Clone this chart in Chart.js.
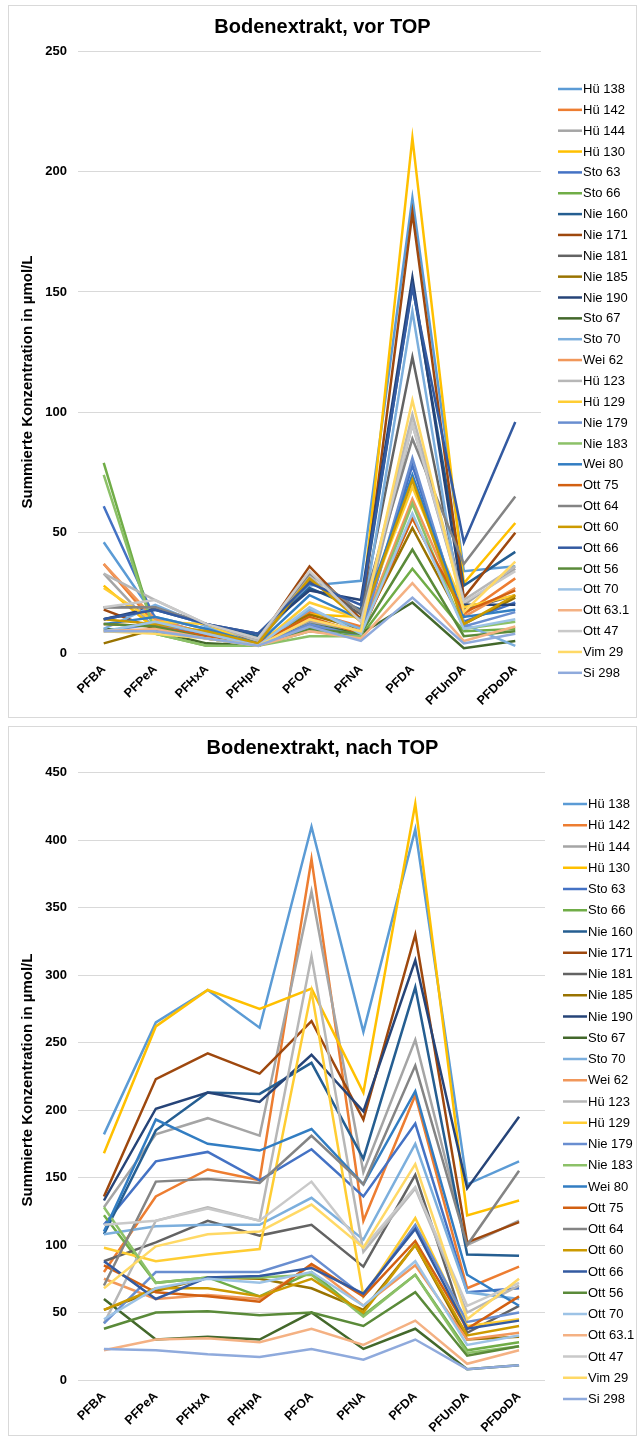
<!DOCTYPE html>
<html>
<head>
<meta charset="utf-8">
<script src="https://cdn.jsdelivr.net/npm/chart.js@4.4.1/dist/chart.umd.min.js"></script>
<style>
  body { margin: 0; background: #fff; }
  .box { position: absolute; left: 8px; width: 627px; border: 1px solid #d9d9d9; background: #fff; }
  #boxVor { top: 5px; height: 711px; }
  #boxNach { top: 726px; height: 708px; }
  canvas { display: block; }
</style>
</head>
<body>
<div class="box" id="boxVor"><canvas id="chartVor" width="627" height="711"></canvas></div>
<div class="box" id="boxNach"><canvas id="chartNach" width="627" height="708"></canvas></div>
<script>
var categories = ['PFBA', 'PFPeA', 'PFHxA', 'PFHpA', 'PFOA', 'PFNA', 'PFDA', 'PFUnDA', 'PFDoDA'];

var sampleNames = ['Hü 138', 'Hü 142', 'Hü 144', 'Hü 130', 'Sto 63', 'Sto 66', 'Nie 160', 'Nie 171',
    'Nie 181', 'Nie 185', 'Nie 190', 'Sto 67', 'Sto 70', 'Wei 62', 'Hü 123', 'Hü 129', 'Nie 179',
    'Nie 183', 'Wei 80', 'Ott 75', 'Ott 64', 'Ott 60', 'Ott 66', 'Ott 56', 'Ott 70', 'Ott 63.1',
    'Ott 47', 'Vim 29', 'Si 298'];

// Bodenextrakt, vor TOP (µmol/L), one row per sample
var vorTopValues = [
    [46, 15, 10, 5, 28, 30, 189, 34, 36],     // Hü 138
    [37, 12, 7, 4, 17, 11, 56, 16, 31],       // Hü 142
    [33, 10, 6, 3, 13, 9, 95, 20, 35],        // Hü 144
    [28, 10, 8, 4, 16, 15, 214, 29, 54],      // Hü 130
    [61, 14, 8, 4, 11, 8, 78, 13, 21],        // Sto 63
    [79, 8, 3, 3, 9, 7, 35, 9, 10],           // Sto 66
    [14, 18, 12, 7, 27, 18, 153, 28, 42],     // Nie 160
    [18, 10, 9, 5, 36, 14, 183, 23, 50],      // Nie 171
    [19, 19, 12, 6, 30, 16, 123, 18, 24],     // Nie 181
    [4, 10, 8, 5, 16, 10, 52, 12, 23],        // Nie 185
    [14, 19, 12, 8, 26, 22, 156, 20, 20],     // Nie 190
    [10, 9, 4, 3, 12, 8, 21, 2, 5],           // Sto 67
    [10, 20, 11, 3, 18, 10, 142, 12, 3],      // Sto 70
    [37, 14, 8, 4, 14, 9, 64, 15, 27],        // Wei 62
    [33, 22, 12, 5, 32, 13, 99, 22, 36],      // Hü 123
    [27, 13, 12, 3, 21, 14, 69, 19, 24],      // Hü 129
    [9, 12, 8, 3, 12, 7, 81, 11, 17],         // Nie 179
    [74, 8, 3, 3, 7, 7, 62, 10, 13],          // Nie 183
    [12, 15, 10, 4, 24, 14, 74, 15, 18],      // Wei 80
    [12, 11, 7, 4, 15, 8, 56, 17, 26],        // Ott 75
    [19, 19, 12, 6, 33, 17, 89, 37, 65],      // Ott 64
    [14, 12, 9, 4, 31, 13, 72, 12, 24],       // Ott 60
    [14, 18, 12, 8, 29, 20, 152, 46, 96],     // Ott 66
    [12, 11, 6, 3, 10, 8, 43, 7, 9],          // Ott 56
    [9, 13, 8, 3, 19, 8, 58, 10, 14],         // Ott 70
    [9, 10, 6, 3, 9, 6, 29, 5, 11],           // Ott 63.1
    [19, 22, 12, 6, 34, 13, 95, 21, 34],      // Ott 47
    [9, 8, 6, 3, 14, 9, 105, 17, 38],         // Vim 29
    [9, 9, 6, 3, 11, 5, 23, 4, 8]             // Si 298
];

// Bodenextrakt, nach TOP (µmol/L), one row per sample
var nachTopValues = [
    [182, 265, 289, 261, 410, 258, 408, 145, 162],  // Hü 138
    [80, 136, 156, 148, 386, 118, 211, 68, 84],     // Hü 142
    [128, 182, 194, 181, 362, 154, 252, 100, 118],  // Hü 144
    [168, 262, 289, 275, 290, 213, 427, 122, 133],  // Hü 130
    [115, 162, 169, 148, 171, 136, 190, 65, 68],    // Sto 63
    [122, 72, 76, 62, 80, 48, 78, 22, 28],          // Sto 66
    [108, 185, 213, 212, 235, 164, 291, 93, 92],    // Nie 160
    [136, 223, 242, 227, 266, 193, 330, 102, 117],  // Nie 171
    [88, 102, 118, 107, 115, 84, 152, 35, 55],      // Nie 181
    [52, 66, 76, 75, 68, 52, 100, 30, 32],          // Nie 185
    [133, 201, 213, 206, 241, 199, 311, 142, 195],  // Nie 190
    [60, 30, 32, 30, 50, 23, 38, 8, 11],            // Sto 67
    [108, 114, 115, 115, 135, 104, 175, 65, 60],    // Sto 70
    [75, 60, 63, 60, 85, 55, 85, 30, 35],           // Wei 62
    [42, 118, 128, 118, 314, 95, 142, 50, 70],      // Hü 123
    [98, 88, 93, 97, 288, 62, 120, 40, 45],         // Hü 129
    [42, 80, 80, 80, 92, 62, 115, 43, 50],          // Nie 179
    [128, 72, 76, 76, 78, 47, 78, 20, 25],          // Nie 183
    [110, 193, 175, 170, 186, 145, 214, 78, 55],    // Wei 80
    [85, 65, 62, 58, 86, 62, 103, 38, 62],          // Ott 75
    [70, 147, 149, 146, 181, 145, 233, 100, 155],   // Ott 64
    [52, 68, 68, 62, 75, 50, 100, 33, 40],          // Ott 60
    [88, 60, 76, 77, 83, 64, 112, 38, 44],          // Ott 66
    [38, 50, 51, 48, 50, 40, 65, 18, 25],           // Ott 56
    [45, 68, 75, 72, 80, 55, 88, 26, 33],           // Ott 70
    [22, 30, 31, 28, 38, 26, 44, 12, 22],           // Ott 63.1
    [115, 118, 127, 118, 147, 98, 143, 55, 72],     // Ott 47
    [68, 99, 108, 110, 130, 98, 160, 45, 75],       // Vim 29
    [23, 22, 19, 17, 23, 15, 30, 8, 11]             // Si 298
];

// office palette, same order as the samples
var seriesColors = ['#5B9BD5', '#ED7D31', '#A5A5A5', '#FFC000', '#4472C4', '#70AD47',
    '#255E91', '#9E480E', '#636363', '#997300', '#264478', '#43682B',
    '#7CAFDD', '#F1975A', '#B7B7B7', '#FFCD33', '#698ED0', '#8CC168',
    '#327DC2', '#D26012', '#848484', '#CC9A00', '#335AA1', '#5A8A39',
    '#9DC3E6', '#F4B183', '#C9C9C9', '#FFD966', '#8FAADC'];

var FONT = '"Liberation Sans", Arial, sans-serif';

// legend and rotated axis title, placed like the excel export
var excelDecor = {
    id: 'excelDecor',
    afterDraw: function (chart, args, opts) {
        var ctx = chart.ctx;
        ctx.save();
        ctx.font = '13px ' + FONT;
        ctx.textBaseline = 'middle';
        ctx.textAlign = 'left';
        chart.data.datasets.forEach(function (ds, i) {
            var y = opts.legendTop + i * opts.legendStep;
            ctx.strokeStyle = ds.borderColor;
            ctx.lineWidth = 2.5;
            ctx.beginPath();
            ctx.moveTo(opts.legendX, y);
            ctx.lineTo(opts.legendX + 24, y);
            ctx.stroke();
            ctx.fillStyle = '#000';
            ctx.fillText(ds.label, opts.legendX + 25, y + 0.5);
        });

        ctx.translate(opts.titleX, opts.titleY);
        ctx.rotate(-Math.PI / 2);
        ctx.font = 'bold 15px ' + FONT;
        ctx.textAlign = 'center';
        ctx.fillText(opts.titleText, 0, 0);
        ctx.restore();
    }
};

function buildDatasets(values) {
    var n = values.length;
    return values.map(function (row, i) {
        return {
            label: sampleNames[i],
            data: row,
            borderColor: seriesColors[i],
            backgroundColor: seriesColors[i],
            borderWidth: 2.5,
            pointRadius: 0,
            tension: 0,
            order: n - 1 - i
        };
    });
}

function makeChart(canvasId, title, values, yMax, layout) {
    var ctx = document.getElementById(canvasId);
    return new Chart(ctx.getContext('2d'), {
        type: 'line',
        data: {
            labels: categories,
            datasets: buildDatasets(values)
        },
        options: {
            responsive: false,
            animation: false,
            events: [],
            scales: {
                x: {
                    offset: true,
                    grid: { display: false, drawTicks: false },
                    border: { display: false },
                    ticks: {
                        color: '#000',
                        font: { family: FONT, size: 12.5, weight: 'bold' },
                        minRotation: 45,
                        maxRotation: 45,
                        padding: 9
                    },
                    afterFit: function (scale) {
                        scale.height = layout.xHeight;
                    }
                },
                y: {
                    min: 0,
                    max: yMax,
                    grid: { color: '#d9d9d9', lineWidth: 1, drawTicks: false },
                    border: { display: false },
                    ticks: {
                        stepSize: 50,
                        color: '#000',
                        font: { family: FONT, size: 13, weight: 'bold' },
                        padding: 11
                    },
                    afterFit: function (scale) {
                        scale.width = 69;
                    }
                },
                // empty right-hand axis, keeps room for the legend
                legendSpace: {
                    type: 'linear',
                    position: 'right',
                    grid: { display: false, drawTicks: false },
                    border: { display: false },
                    ticks: { display: false },
                    afterFit: function (scale) {
                        scale.width = layout.padRight;
                    }
                }
            },
            plugins: {
                legend: { display: false },
                tooltip: { enabled: false },
                title: {
                    display: true,
                    text: title,
                    color: '#000',
                    font: { family: FONT, size: 20, weight: 'bold' },
                    padding: { top: 9, bottom: layout.titleGap }
                },
                excelDecor: {
                    legendX: layout.legendX,
                    legendTop: layout.legendTop,
                    legendStep: layout.legendStep,
                    titleX: 19,
                    titleY: layout.axisTitleY,
                    titleText: 'Summierte Konzentration in µmol/L'
                }
            }
        },
        plugins: [excelDecor]
    });
}

makeChart('chartVor', 'Bodenextrakt, vor TOP', vorTopValues, 250, {
    padRight: 95, xHeight: 64, titleGap: 12.3,
    legendX: 549, legendTop: 83, legendStep: 20.85, axisTitleY: 376
});

makeChart('chartNach', 'Bodenextrakt, nach TOP', nachTopValues, 450, {
    padRight: 91, xHeight: 55, titleGap: 12.7,
    legendX: 554, legendTop: 77, legendStep: 21.25, axisTitleY: 353
});
</script>
</body>
</html>
